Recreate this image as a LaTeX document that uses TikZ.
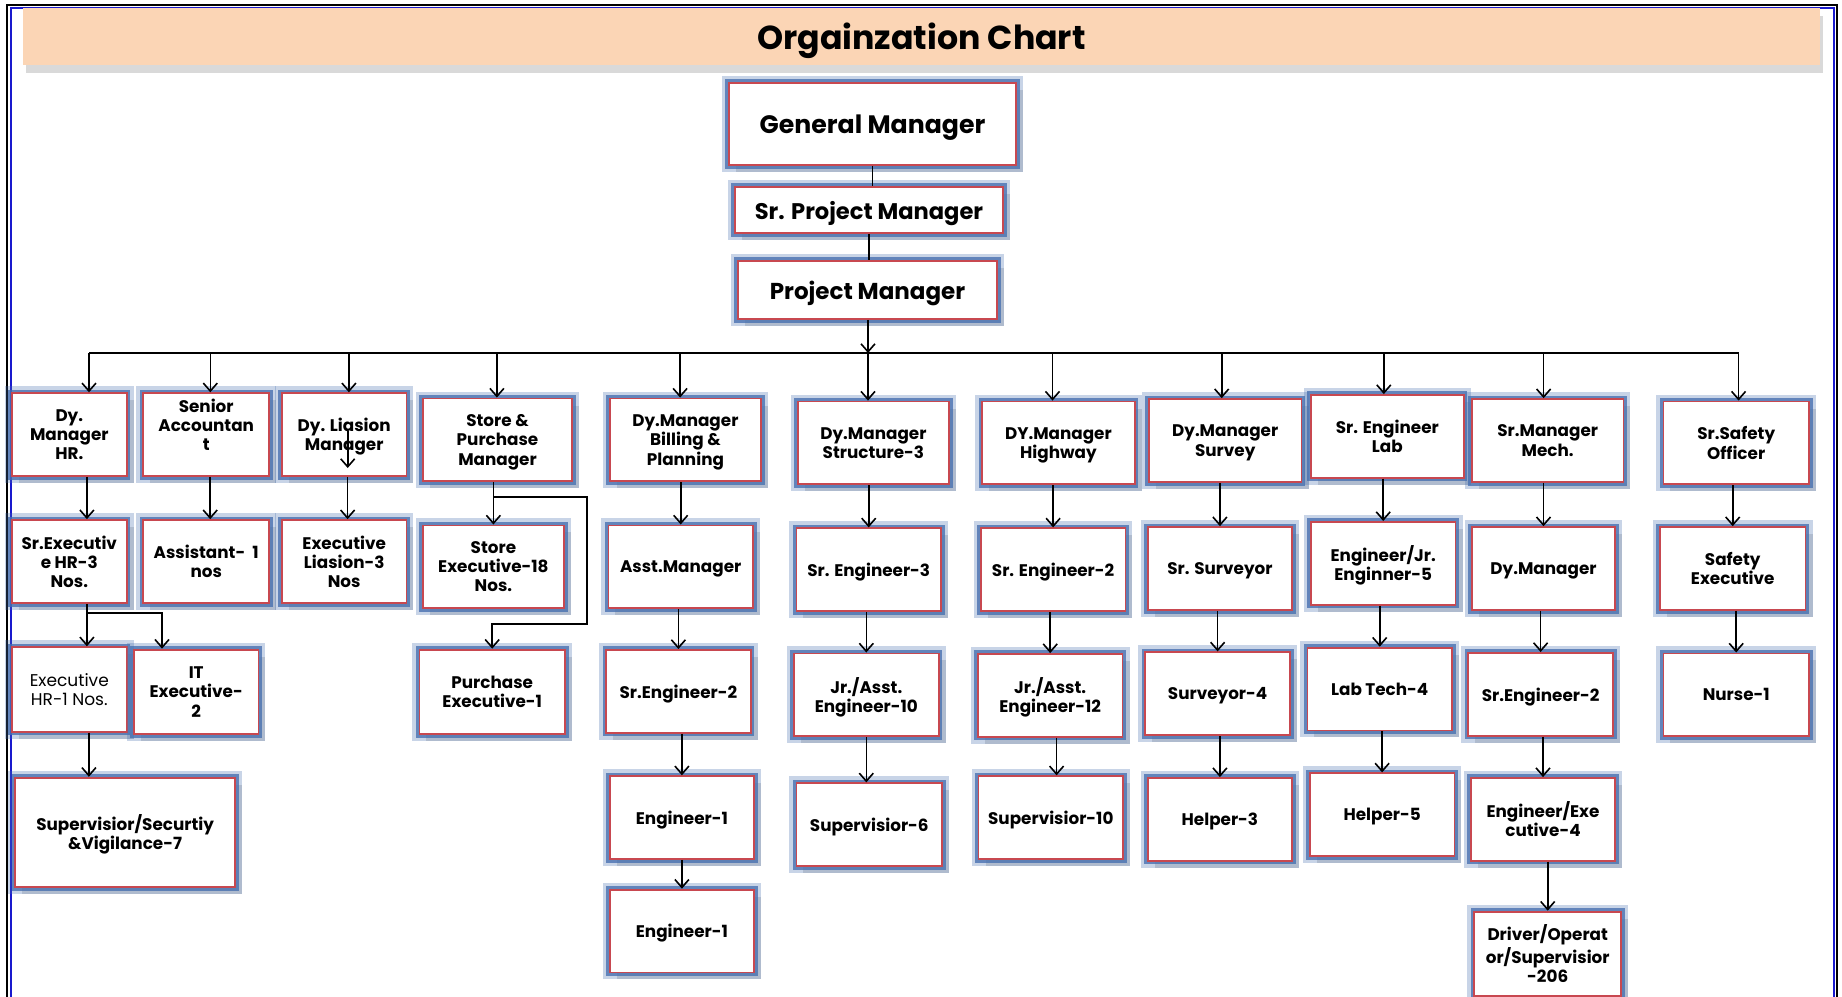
\documentclass[tikz,border=0pt]{standalone}
\usepackage{fontspec}
\setmainfont{Poppins}
\usetikzlibrary{arrows.meta,shadows}
\definecolor{boxred}{RGB}{200,72,80}
\definecolor{glowblue}{RGB}{72,112,176}
\definecolor{peach}{RGB}{251,213,181}
\definecolor{frameblue}{RGB}{25,25,205}
\newcommand{\bx}{\fontsize{8.4}{9.6}\selectfont\bfseries}
\newcommand{\mx}{\fontsize{11.5}{13}\selectfont\bfseries}

\begin{document}
\begin{tikzpicture}[x=0.5pt, y=-0.5pt, line width=0.8pt, >={Straight Barb[length=4pt,width=7pt]},
    bnode/.style={draw=boxred, line width=0.9pt, fill=white, align=center, inner sep=1pt, text depth=0pt, minimum width=72.3pt, minimum height=41.4pt, font=\bx, drop shadow={shadow xshift=3.5pt, shadow yshift=-3.5pt, opacity=0.28}, preaction={draw=glowblue, line width=7pt, draw opacity=0.3}, preaction={draw=glowblue, line width=3.6pt, draw opacity=0.8}},
    mnode/.style={bnode, font=\mx},
    tnode/.style={fill=peach, minimum width=898.5pt, minimum height=28.5pt, text depth=0pt, font=\fontsize{16.6}{18}\selectfont\bfseries, drop shadow={shadow xshift=1.5pt, shadow yshift=-4pt, opacity=0.3}}]
    \useasboundingbox (0,0) rectangle (1842,996);

    % frame
    \draw[line width=1.2pt] (7,1010) -- (7,5) -- (1837,5) -- (1837,1010) ;
    \draw[frameblue, line width=1pt] (10.5,1010) -- (10.5,8) -- (1834,8) -- (1834,1010) ;

    \node[tnode] (title) at (921.5,36) {Orgainzation Chart};

    % top
    \node[mnode, minimum width=143.5pt, minimum height=41pt, font=\fontsize{12.6}{14}\selectfont\bfseries] (gm) at (872.5,124) {General Manager};
    \node[mnode, minimum width=134pt, minimum height=23pt, font=\fontsize{11.3}{13}\selectfont\bfseries] (spm) at (869,210) {Sr. Project Manager};
    \node[mnode, minimum width=129.5pt, minimum height=29pt] (pm) at (867.5,290) {Project Manager};

    % level 1
    \node[bnode, minimum width=57.5pt] (dmhr) at (69.3,434.6) {Dy.\\Manager\\HR.};
    \node[bnode, minimum width=62.9pt] (sacc) at (206.2,434.6) {Senior\\Accountan\\t\\};
    \node[bnode, minimum width=62.2pt] (dlm) at (344.2,434.6) {Dy. Liasion\\Manager};
    \node[bnode, minimum width=74.5pt] (spur) at (497.5,439.9) {Store \&\\Purchase\\Manager};
    \node[bnode, minimum width=75.7pt] (dmbp) at (685.4,439.9) {Dy.Manager\\Billing \&\\Planning};
    \node[bnode, minimum width=75.7pt] (dmst) at (873.4,442.9) {Dy.Manager\\Structure-3};
    \node[bnode, minimum width=76.3pt] (dmhw) at (1058.4,442.9) {DY.Manager\\Highway};
    \node[bnode, minimum width=76.3pt] (dmsv) at (1225.2,440.5) {Dy.Manager\\Survey};
    \node[bnode, minimum width=76.3pt] (selab) at (1387.3,436.4) {Sr. Engineer\\Lab};
    \node[bnode, minimum width=75.7pt] (smmech) at (1547.7,440.5) {Sr.Manager\\Mech.};
    \node[bnode, minimum width=72.8pt] (ssafe) at (1736.2,442.9) {Sr.Safety\\Officer};

    % level 2
    \node[bnode, minimum width=57.5pt] (sehr) at (69.3,561.5) {Sr.Executiv\\e HR-3\\Nos.};
    \node[bnode, minimum width=62.9pt] (asst) at (206.2,561.5) {Assistant-~~1\\nos};
    \node[bnode, minimum width=62.2pt] (elia) at (344.2,561.5) {Executive\\Liasion-3\\Nos};
    \node[bnode, minimum width=70.5pt] (sexe) at (493.4,566.8) {Store\\Executive-18\\Nos.};
    \node[bnode] (amgr) at (680.7,566.8) {Asst.Manager};
    \node[bnode] (sre3) at (868.7,569.7) {Sr. Engineer-3};
    \node[bnode] (sre2h) at (1053.1,569.7) {Sr. Engineer-2};
    \node[bnode] (srsv) at (1219.9,568.5) {Sr. Surveyor};
    \node[bnode] (ejr) at (1383.2,563.3) {Engineer/Jr.\\Enginner-5};
    \node[bnode, minimum width=71.7pt] (dymgr) at (1543.5,568.5) {Dy.Manager};
    \node[bnode, minimum width=72.8pt] (sfexe) at (1732.7,568.5) {Safety\\Executive};

    % level 3
    \node[bnode, minimum width=57.5pt, minimum height=42.3pt, font=\fontsize{8.5}{9.8}\selectfont] (ehr) at (69.3,689.5) {Executive\\HR-1 Nos.};
    \node[bnode, minimum width=62.2pt, minimum height=42.3pt] (itexe) at (196.2,691.9) {IT\\Executive-\\2};
    \node[bnode, minimum width=72.8pt, minimum height=42.3pt] (pexe) at (492.2,691.9) {Purchase\\Executive-1};
    \node[bnode] (sre2b) at (678.4,691.3) {Sr.Engineer-2};
    \node[bnode] (jra10) at (866.3,694.8) {Jr./Asst.\\Engineer-10};
    \node[bnode] (jra12) at (1050.2,695.4) {Jr./Asst.\\Engineer-12};
    \node[bnode] (surv) at (1217.6,693.7) {Surveyor-4};
    \node[bnode] (labt) at (1379.7,689.0) {Lab Tech-4};
    \node[bnode] (sre2m) at (1540.6,694.3) {Sr.Engineer-2};
    \node[bnode, minimum width=72.8pt] (nurse) at (1736.2,694.8) {Nurse-1};

    % level 4
    \node[bnode, minimum width=109.9pt, minimum height=54.6pt] (supsec) at (125.1,832.3) {Supervisior/Securtiy\\\&Vigilance-7};
    \node[bnode] (eng1a) at (681.9,817.6) {Engineer-1};
    \node[bnode, minimum width=72.9pt] (sup6) at (869.3,824.7) {Supervisior-6};
    \node[bnode] (sup10) at (1050.8,817.6) {Supervisior-10};
    \node[bnode] (help3) at (1219.9,819.4) {Helper-3};
    \node[bnode] (help5) at (1382.1,814.7) {Helper-5};
    \node[bnode] (engexe) at (1543.0,819.4) {Engineer/Exe\\cutive-4};

    % level 5
    \node[bnode] (eng1b) at (681.9,931.0) {Engineer-1};
    \node[bnode, minimum width=73.4pt, minimum height=42pt] (driver) at (1547.7,953.6) {Driver/Operat\\or/Supervisior\\-206};

    % top chain and bus
    \draw (gm.south) -- (gm.south |- spm.north) ;
    \draw (spm.south) -- (spm.south |- pm.north) ;
    \coordinate (b1) at (89,353);
    \coordinate (b2) at (210.3,353);
    \coordinate (b3) at (348.9,353);
    \coordinate (b4) at (496.9,353);
    \coordinate (b5) at (680.1,353);
    \coordinate (b6) at (868,353);
    \coordinate (b7) at (1052.5,353);
    \coordinate (b8) at (1221.7,353);
    \coordinate (b9) at (1383.8,353);
    \coordinate (b10) at (1543.6,353);
    \coordinate (b11) at (1738.6,353);
    \draw (b1) -- (b11) ;
    \draw[->] (pm.south -| b6) -- (b6) ;
    \draw[->] (b1) -- (b1 |- dmhr.north) ;
    \draw[->] (b2) -- (b2 |- sacc.north) ;
    \draw[->] (b3) -- (b3 |- dlm.north) ;
    \draw[->] (b4) -- (b4 |- spur.north) ;
    \draw[->] (b5) -- (b5 |- dmbp.north) ;
    \draw[->] (b6) -- (b6 |- dmst.north) ;
    \draw[->] (b7) -- (b7 |- dmhw.north) ;
    \draw[->] (b8) -- (b8 |- dmsv.north) ;
    \draw[->] (b9) -- (b9 |- selab.north) ;
    \draw[->] (b10) -- (b10 |- smmech.north) ;
    \draw[->] (b11) -- (b11 |- ssafe.north) ;

    % stray arrow over Dy. Liasion Manager
    \coordinate (dl1) at (347.7,431);
    \coordinate (dl2) at (347.7,468);
    \draw[->] (dl1) -- (dl2) ;

    % HR column
    \draw[->] ([xshift=8.8pt]dmhr.south) -- ([xshift=8.8pt]dmhr.south |- sehr.north) ;
    \coordinate (hj1) at (87,613);
    \coordinate (hj2) at (162,613);
    \draw[->] ([xshift=8.8pt]sehr.south) -- ([xshift=8.8pt]sehr.south |- ehr.north) ;
    \draw[->] (hj1) -- (hj2) -- (hj2 |- itexe.north) ;
    \draw[->] ([xshift=9.8pt]ehr.south) -- ([xshift=9.8pt]ehr.south |- supsec.north) ;

    \draw[->] ([xshift=2pt]sacc.south) -- ([xshift=2pt]sacc.south |- asst.north) ;
    \draw[->] ([xshift=1.7pt]dlm.south) -- ([xshift=1.7pt]dlm.south |- elia.north) ;

    % store
    \draw[->] (sexe.north |- spur.south) -- (sexe.north) ;
    \coordinate (sj1) at (493.4,497);
    \coordinate (sj2) at (587,624);
    \draw[->] (sj1) -| (sj2) -| (pexe.north) ;

    % billing
    \draw[->] (amgr.north |- dmbp.south) -- (amgr.north) ;
    \draw[->] (sre2b.north |- amgr.south) -- (sre2b.north) ;
    \draw[->] (eng1a.north |- sre2b.south) -- (eng1a.north) ;
    \draw[->] (eng1b.north |- eng1a.south) -- (eng1b.north) ;

    % structure
    \draw[->] (sre3.north |- dmst.south) -- (sre3.north) ;
    \draw[->] (jra10.north |- sre3.south) -- (jra10.north) ;
    \draw[->] (jra10.south) -- (jra10.south |- sup6.north) ;

    % highway
    \draw[->] (sre2h.north |- dmhw.south) -- (sre2h.north) ;
    \draw[->] (jra12.north |- sre2h.south) -- (jra12.north) ;
    \draw[->] ([xshift=3.2pt]jra12.south) -- ([xshift=3.2pt]jra12.south |- sup10.north) ;

    % survey
    \draw[->] (srsv.north |- dmsv.south) -- (srsv.north) ;
    \draw[->] (surv.north |- srsv.south) -- (surv.north) ;
    \draw[->] (help3.north |- surv.south) -- (help3.north) ;

    % lab
    \draw[->] (ejr.north |- selab.south) -- (ejr.north) ;
    \draw[->] (labt.north |- ejr.south) -- (labt.north) ;
    \draw[->] (help5.north |- labt.south) -- (help5.north) ;

    % mech
    \draw[->] (dymgr.north |- smmech.south) -- (dymgr.north) ;
    \draw[->] (sre2m.north |- dymgr.south) -- (sre2m.north) ;
    \draw[->] (engexe.north |- sre2m.south) -- (engexe.north) ;
    \draw[->] (driver.north |- engexe.south) -- (driver.north) ;

    % safety
    \draw[->] (sfexe.north |- ssafe.south) -- (sfexe.north) ;
    \draw[->] (nurse.north |- sfexe.south) -- (nurse.north) ;

\end{tikzpicture}
\end{document}
